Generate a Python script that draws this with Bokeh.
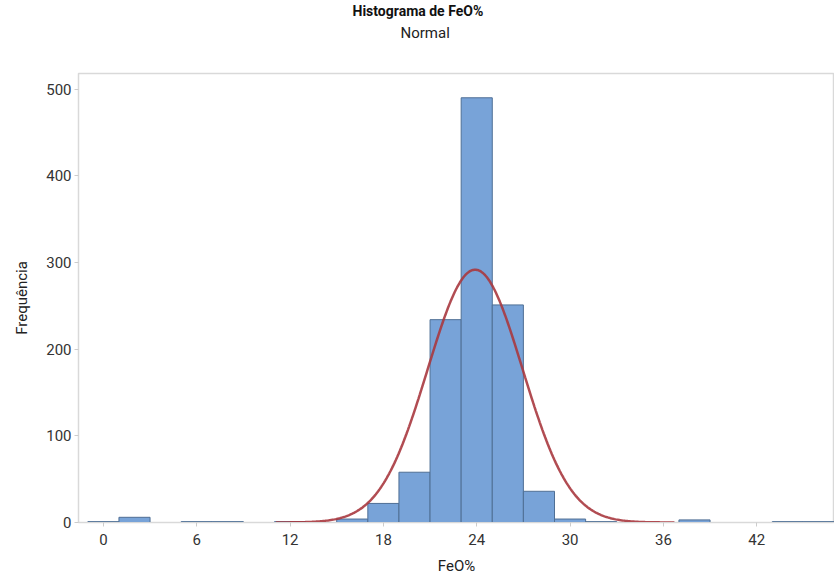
from bokeh.plotting import figure
from bokeh.models import Title, Range1d, FixedTicker, ColumnDataSource
from bokeh.embed import file_html
from bokeh.resources import INLINE
import numpy as np

# Histogram data (bin centers, width 2)
bin_centers = [0, 2, 4, 6, 8, 10, 12, 14, 16, 18, 20, 22, 24, 26, 28, 30, 32, 34, 36, 38, 40, 42, 44, 46]
counts = [1, 6, 0, 1, 1, 0, 1, 0, 4, 22, 58, 234, 490, 251, 36, 4, 1, 0, 0, 3, 0, 0, 1, 1]
bin_width = 2
x_ticks = [0, 6, 12, 18, 24, 30, 36, 42]
y_ticks = [0, 100, 200, 300, 400, 500]
title_text = "Histograma de FeO%"
subtitle_text = "Normal"

# Fitted normal parameters
fit_mean = 23.9
fit_sd = 3.05

FONT = "Roboto"

p = figure(width=834, height=577, output_backend="svg", toolbar_location=None,
           x_range=Range1d(-1.6, 47.0), y_range=Range1d(0, 518),
           min_border_left=78, min_border_right=0, min_border_top=10, min_border_bottom=10)
p.title.visible = False

spacer = Title(text=" ", align="left", text_font=FONT, text_font_size="16px",
               text_color="#ffffff", standoff=8)
sub = Title(text=subtitle_text, align="left", offset=322, text_font=FONT, text_font_size="15px",
            text_font_style="normal", text_color="#222222", standoff=6)
main = Title(text=title_text, align="left", offset=274, text_font=FONT, text_font_size="14px",
             text_font_style="bold", text_color="#111111", standoff=0)
p.add_layout(spacer, "above")
p.add_layout(sub, "above")
p.add_layout(main, "above")

left = [c - bin_width / 2 for c in bin_centers]
right = [c + bin_width / 2 for c in bin_centers]
src = ColumnDataSource(dict(left=left, right=right, top=counts, bottom=[0] * len(counts)))
p.quad(left="left", right="right", top="top", bottom="bottom", source=src,
       fill_color="#78a3d8", line_color="#4f6f95", line_width=1)

N = sum(counts)
xs = np.linspace(fit_mean - 4.2 * fit_sd, fit_mean + 4.2 * fit_sd, 300)
ys = N * bin_width / (fit_sd * np.sqrt(2 * np.pi)) * np.exp(-0.5 * ((xs - fit_mean) / fit_sd) ** 2)
p.line(xs, ys, line_color="#a8393f", line_width=2.5, line_alpha=0.9)

p.xgrid.visible = False
p.ygrid.visible = False
p.outline_line_color = "#d9d9d9"
p.outline_line_width = 1.5

p.xaxis.ticker = FixedTicker(ticks=x_ticks)
p.yaxis.ticker = FixedTicker(ticks=y_ticks)
p.xaxis.minor_tick_line_color = None
p.yaxis.minor_tick_line_color = None
for ax in (p.xaxis, p.yaxis):
    ax.axis_line_color = "#d9d9d9"
    ax.major_tick_line_color = "#cccccc"
    ax.major_tick_out = 4
    ax.major_tick_in = 0
    ax.major_label_text_font = FONT
    ax.major_label_text_font_size = "15px"
    ax.major_label_text_color = "#333333"
    ax.axis_label_text_font = FONT
    ax.axis_label_text_font_size = "15px"
    ax.axis_label_text_font_style = "normal"
    ax.axis_label_text_color = "#222222"
p.xaxis.axis_label = "FeO%"
p.yaxis.axis_label = "Frequência"
p.xaxis.major_label_standoff = 7
p.xaxis.axis_label_standoff = 9
p.yaxis.major_label_standoff = 3
p.yaxis.axis_label_standoff = 12

open("out.html", "w").write(file_html(p, INLINE))
